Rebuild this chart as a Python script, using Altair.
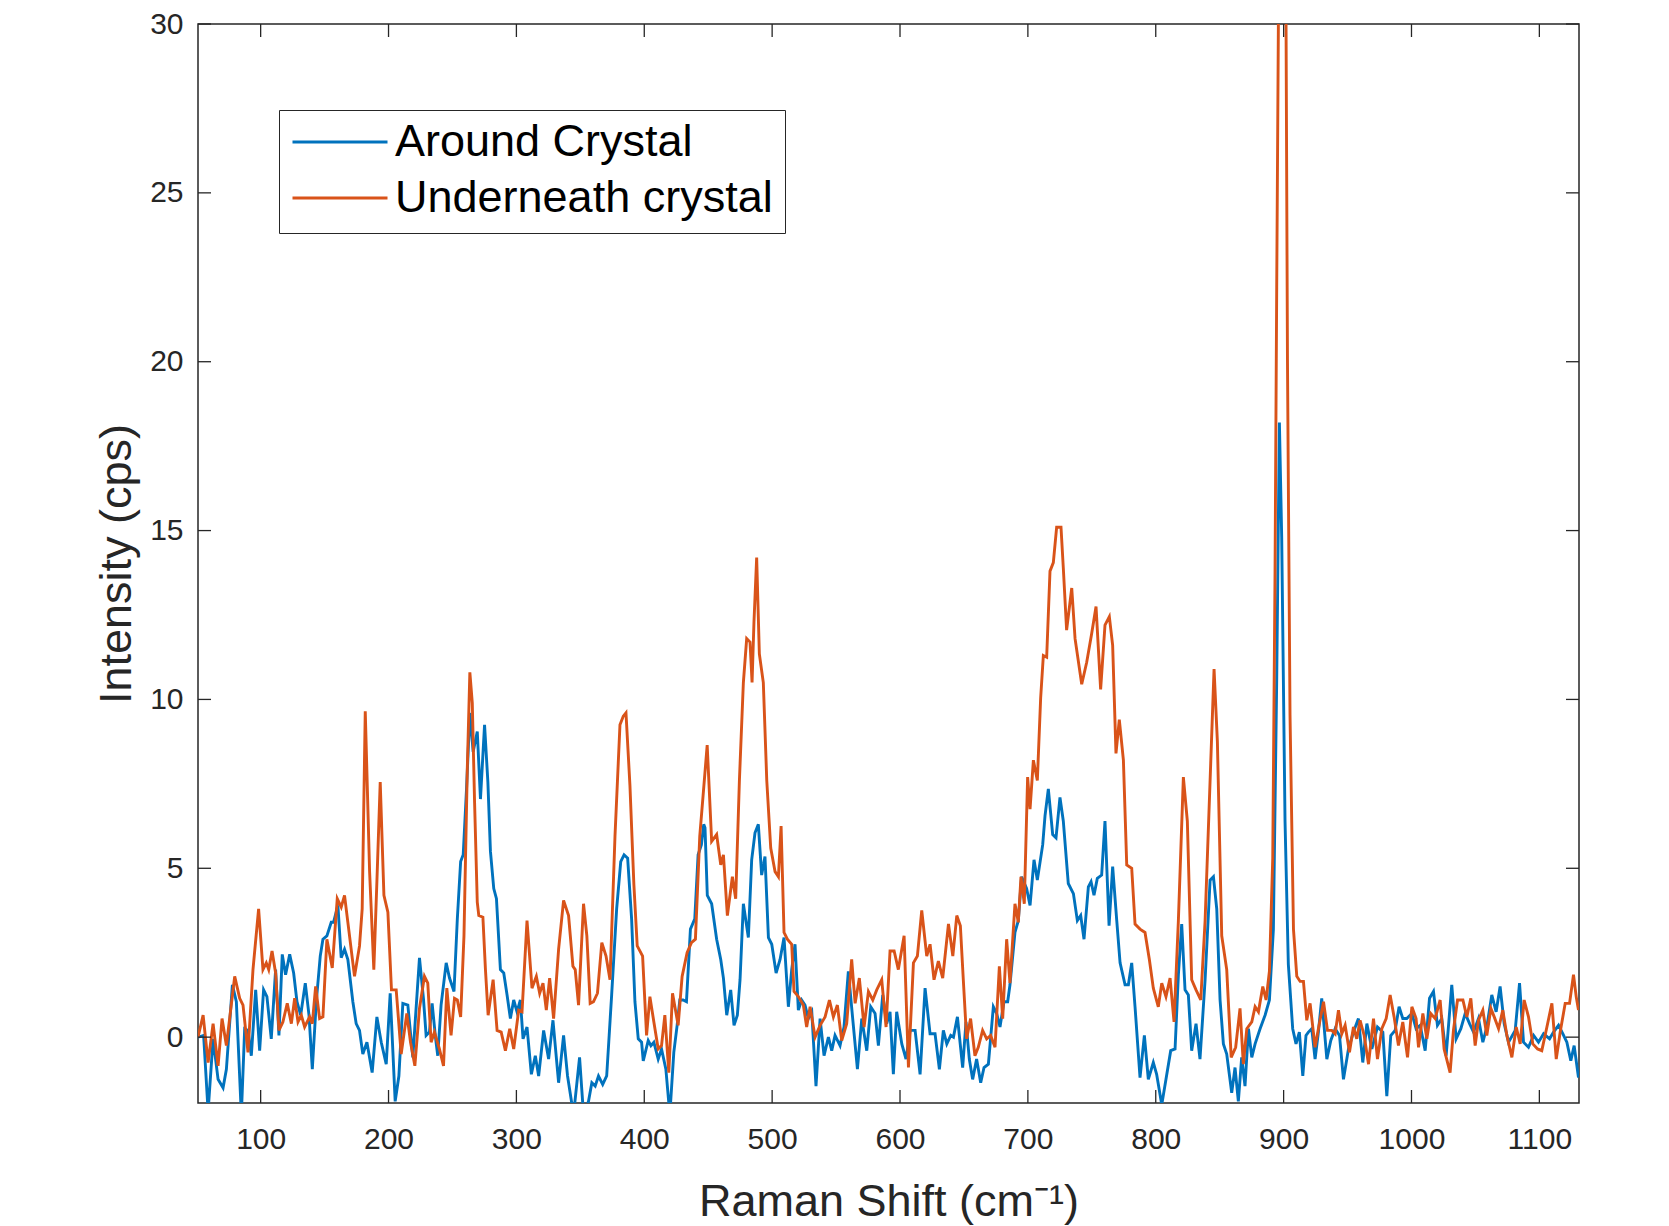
import altair as alt
import pandas as pd

series_names = ["Around Crystal", "Underneath crystal"]
series_colors = ["#0072BD", "#D95319"]

around_x = [51.0, 55.4, 58.9, 62.8, 66.7, 70.6, 73.2, 77.9, 81.0, 84.9, 87.5, 90.1, 92.7, 96.1, 99.2,
            102.3, 104.9, 108.3, 111.7, 114.3, 116.9, 119.5, 122.7, 125.8, 128.4, 131.3, 134.9, 137.8,
            140.4, 143.5, 146.6, 148.7, 151.8, 155.2, 157.0, 160.4, 163.0, 165.6, 168.2, 172.1, 174.7,
            177.3, 179.9, 183.1, 187.2, 190.9, 194.3, 198.2, 201.3, 205.2, 208.1, 211.2, 215.1, 219.0,
            224.2, 227.3, 229.4, 232.0, 234.1, 236.7, 238.5, 241.1, 245.1, 247.7, 251.2, 253.8, 256.4,
            258.4, 261.0, 263.6, 266.2, 269.4, 271.9, 275.1, 277.7, 279.7, 282.3, 284.4, 287.5, 290.1,
            292.7, 295.3, 297.9, 300.5, 303.1, 305.2, 308.3, 311.7, 314.8, 317.4, 321.3, 325.2, 328.6,
            333.0, 336.9, 340.0, 344.7, 349.4, 352.5, 356.4, 359.0, 361.6, 364.2, 367.5, 370.6, 374.5,
            378.4, 381.6, 384.2, 387.0, 390.1, 392.7, 395.3, 397.9, 399.2, 403.1, 405.2, 407.5, 410.9,
            413.5, 416.9, 420.0, 423.1, 425.7, 427.8, 430.4, 433.0, 436.1, 439.5, 442.1, 444.7, 446.5,
            447.5, 449.3, 452.7, 456.6, 459.8, 461.9, 464.5, 467.6, 470.2, 472.8, 474.9, 477.5, 481.4,
            484.0, 486.6, 489.2, 491.8, 494.4, 497.1, 499.7, 503.1, 506.2, 509.3, 512.7, 515.3, 517.9,
            520.5, 523.1, 525.7, 528.3, 531.0, 534.3, 537.5, 540.6, 544.0, 546.6, 549.2, 553.1, 556.2,
            559.6, 563.0, 566.7, 570.1, 574.0, 577.1, 580.5, 583.1, 586.5, 589.6, 592.2, 594.8, 597.4,
            601.4, 604.7, 607.9, 611.8, 615.7, 619.6, 623.5, 627.4, 630.8, 633.9, 636.6, 639.7, 641.8,
            644.9, 649.0, 651.6, 654.2, 656.8, 659.9, 663.1, 665.7, 669.1, 673.0, 675.6, 678.2, 681.3,
            684.2, 686.0, 689.9, 692.5, 695.1, 699.0, 701.7, 704.8, 707.4, 711.6, 713.4, 716.0, 719.4,
            722.0, 725.1, 727.7, 731.6, 735.6, 738.7, 741.3, 743.9, 747.3, 749.4, 751.7, 754.3, 757.7,
            760.3, 763.5, 766.3, 769.5, 772.1, 776.0, 778.6, 781.2, 783.8, 787.7, 791.1, 794.2, 798.1,
            800.7, 804.7, 808.0, 811.7, 815.1, 817.7, 820.3, 822.9, 825.5, 828.1, 831.5, 834.6, 838.6,
            842.5, 845.1, 847.7, 850.3, 852.9, 855.5, 859.4, 862.0, 864.6, 867.2, 869.8, 872.5, 875.1,
            877.7, 881.6, 885.5, 888.9, 892.0, 894.6, 896.7, 898.5, 901.1, 903.7, 907.1, 909.7, 912.3,
            915.0, 917.5, 919.4, 922.0, 924.6, 927.2, 929.8, 933.8, 936.9, 940.3, 943.7, 946.8, 950.7,
            954.6, 958.5, 961.9, 965.1, 969.0, 973.4, 977.6, 980.7, 983.8, 987.2, 990.3, 993.2, 996.3,
            1000.3, 1003.6, 1006.8, 1010.7, 1014.1, 1017.2, 1020.3, 1023.7, 1027.1, 1031.5, 1034.9,
            1038.6, 1042.0, 1045.4, 1048.5, 1052.4, 1055.8, 1058.9, 1062.8, 1066.2, 1069.3, 1072.5,
            1075.9, 1081.1, 1084.5, 1087.6, 1091.5, 1095.5, 1099.3, 1103.3, 1108.0, 1111.1, 1115.0,
            1118.4, 1121.5, 1124.6, 1127.2, 1130.6]
around_y = [0.0, 0.05, -2.2, -0.05, -1.25, -1.5, -0.95, 1.55, 1.05, -2.3, 0.25, 0.2, -0.55, 1.4, -0.4,
            1.4, 1.2, -0.05, 2.0, 0.05, 2.45, 1.85, 2.45, 1.9, 1.05, 0.65, 1.6, 0.65,
            -0.95, 1.05, 2.4, 2.9, 3.0, 3.4, 3.4, 3.9, 2.35, 2.6, 2.3, 1.05, 0.4,
            0.2, -0.5, -0.15, -1.05, 0.6, -0.15, -0.8, 1.3, -1.9, -1.15, 1.0, 0.95, -0.6,
            2.35, 1.15, 0.05, 0.15, 1.0, 0.0, -0.55, 0.95, 2.2, 1.75, 1.35, 3.5, 5.2,
            5.4, 7.35, 9.6, 8.45, 9.05, 7.05, 9.25, 7.55, 5.5, 4.4, 4.1, 2.0, 1.9,
            1.25, 0.55, 1.1, 0.75, 1.1, -0.05, 0.3, -1.1, -0.55, -1.15, 0.2, -0.65, 0.5,
            -1.35, 0.05, -1.15, -2.3, -0.6, -2.3, -1.9, -1.35, -1.45, -1.15, -1.4, -1.15, 1.25,
            3.8, 5.2, 5.4, 5.3, 3.5, 1.05, -0.05, -0.15, -0.7, -0.1, -0.25, -0.15, -0.65,
            -0.35, -0.95, -2.3, -0.45, 0.35, 1.1, 1.1, 1.05, 3.2, 3.5, 5.4, 5.7, 6.3,
            6.2, 4.2, 3.95, 2.9, 2.3, 1.75, 0.65, 1.4, 0.35, 0.65, 1.7, 3.95, 2.95,
            5.25, 6.05, 6.3, 4.8, 5.35, 2.95, 2.75, 1.9, 2.3, 2.95, 0.9, 2.0, 2.75,
            0.8, 1.1, 0.95, 0.55, 0.75, -1.45, 0.55, -0.55, 0.0, -0.4, 0.05, -0.25, 0.3,
            1.95, 0.55, -0.95, 0.55, -0.4, 0.9, 0.7, -0.25, 1.25, 0.4, 0.75, -1.1, 0.75,
            -0.2, -0.65, 0.2, 0.2, -1.1, 1.45, 0.1, 0.1, -0.95, 0.2, -0.2, 0.05, 0.0,
            0.6, -0.9, 0.45, -0.65, -1.25, -0.65, -1.35, -0.9, -0.8, 0.9, 0.7, 0.3, 1.05,
            1.05, 1.55, 3.1, 3.45, 4.75, 4.4, 3.9, 5.25, 4.65, 5.7, 6.55, 7.35, 6.0,
            5.9, 7.1, 6.4, 4.55, 4.25, 3.45, 3.6, 2.9, 4.45, 4.6, 4.2, 4.7, 4.8,
            6.4, 3.3, 5.05, 3.45, 2.2, 1.55, 1.55, 2.2, 0.9, -1.2, 0.05, -1.25, -0.75,
            -1.1, -2.0, -1.25, -0.4, -0.35, 1.85, 3.35, 1.4, 1.25, -0.4, 0.4, -0.65, 1.7,
            4.65, 4.75, 3.8, 1.1, -0.2, -0.5, -1.65, -0.9, -1.9, -0.6, -1.45, 0.25, -0.6,
            -0.2, 0.25, 0.65, 1.1, 3.2, 10.6, 18.2, 14.8, 6.4, 2.15, 0.25, -0.2, 0.15,
            -1.15, 0.05, 0.15, 0.25, -0.65, 0.15, 1.15, -0.65, -0.1, 0.25, 0.05, -1.25, -0.35,
            0.15, 0.55, -0.75, 0.4, -0.35, 0.3, 0.15, -1.75, 0.05, 0.2, 0.9, 0.55, 0.55,
            0.7, 0.25, 0.35, -0.4, 1.15, 1.35, 0.35, 0.55, -0.55, 1.55, -0.05,
            0.25, 0.7, 0.4, 0.15, 0.55, -0.15, 0.3, 1.25, 0.75, 1.5, 0.4,
            -0.15, 0.2, 1.6, -0.15, -0.3, 0.05, -0.15, 0.1, -0.05, 0.15, 0.35,
            0.1, -0.15, -0.7, -0.25, -1.2]

under_x = [51.0, 55.0, 58.9, 62.8, 66.7, 69.8, 73.2, 79.7, 83.6, 86.2, 90.1, 94.0, 98.4, 101.8, 104.4,
           106.3, 108.9, 111.7, 114.3, 117.4, 120.8, 124.0, 126.6, 129.2, 131.8, 134.4, 138.3, 140.4,
           143.0, 146.1, 148.7, 151.8, 156.0, 159.9, 163.0, 165.6, 168.2, 173.4, 177.3, 179.4, 181.8,
           185.2, 188.5, 190.9, 193.5, 196.4, 199.5, 202.3, 206.0, 209.9, 214.3, 217.2, 220.6, 224.2,
           228.1, 230.7, 233.3, 235.9, 239.8, 243.0, 245.6, 248.9, 251.6, 253.8, 256.4, 259.0, 261.6,
           263.6, 265.5, 267.3, 269.4, 270.6, 273.8, 275.8, 277.9, 281.8, 284.9, 288.1, 291.4, 294.8,
           297.9, 301.8, 304.4, 308.3, 312.2, 315.6, 318.2, 320.8, 323.4, 326.0, 329.1, 333.0, 336.9,
           340.8, 344.2, 346.0, 348.6, 352.5, 355.1, 357.7, 360.3, 363.4, 366.8, 370.1, 373.2, 377.1,
           381.0, 383.6, 385.7, 388.8, 391.9, 394.5, 398.7, 401.8, 404.4, 407.5, 410.9, 413.5, 416.1,
           419.2, 422.1, 426.5, 429.6, 433.5, 436.9, 440.0, 443.4, 446.0, 449.2, 452.7, 456.6, 459.8,
           461.9, 465.0, 468.9, 471.5, 474.4, 477.5, 480.1, 482.7, 484.3, 485.8, 487.9, 490.0, 493.1,
           495.8, 498.9, 502.3, 504.9, 507.0, 509.3, 511.9, 515.3, 517.1, 520.5, 524.4, 527.0, 529.7,
           533.6, 537.5, 541.4, 544.8, 547.9, 551.0, 554.4, 558.3, 562.2, 564.9, 568.2, 571.9, 575.3,
           578.7, 581.8, 585.7, 589.1, 592.2, 595.4, 598.7, 603.2, 606.6, 610.5, 613.6, 617.0, 620.9,
           623.5, 626.6, 630.0, 633.4, 637.9, 641.3, 644.4, 647.2, 649.5, 652.1, 655.2, 658.6, 661.2,
           664.6, 667.8, 670.9, 674.3, 677.7, 680.3, 683.4, 686.0, 689.9, 692.5, 694.6, 697.2, 699.8,
           701.7, 704.3, 707.4, 710.0, 712.1, 714.7, 717.3, 719.9, 722.5, 725.9, 727.7, 730.3, 734.3,
           736.9, 742.1, 746.0, 749.9, 753.3, 756.9, 760.3, 763.7, 766.3, 768.9, 771.5, 774.7, 777.3,
           781.2, 783.8, 787.7, 791.6, 795.0, 798.1, 802.0, 804.7, 808.0, 811.2, 814.3, 817.7, 821.6,
           824.7, 828.1, 831.5, 835.2, 838.6, 842.5, 845.6, 848.2, 851.6, 855.5, 859.0, 862.5, 865.9,
           868.5, 871.2, 875.1, 877.7, 880.3, 883.7, 886.3, 888.9, 891.5, 893.3, 894.6, 895.9, 898.9,
           901.9, 903.0, 905.0, 907.7, 910.3, 912.9, 915.5, 918.1, 920.7, 924.6, 927.2, 931.2, 934.3,
           937.7, 940.3, 942.9, 945.5, 948.1, 951.5, 954.6, 957.2, 959.8, 963.0, 966.4, 970.3, 973.4,
           976.8, 980.2, 983.3, 986.4, 989.8, 993.2, 996.9, 1000.3, 1003.6, 1005.5, 1008.9, 1012.0,
           1015.1, 1018.5, 1022.4, 1025.5, 1030.2, 1032.8, 1036.0, 1040.2, 1043.3, 1046.4, 1049.8,
           1052.4, 1055.8, 1058.9, 1062.1, 1064.7, 1068.1, 1071.4, 1074.6, 1078.5, 1081.9, 1085.0,
           1088.1, 1091.5, 1094.9, 1098.6, 1101.9, 1105.9, 1109.8, 1113.2, 1116.3, 1120.2, 1123.6,
           1126.7, 1128.8, 1130.6]
under_y = [0.0, 0.65, -0.75, 0.4, -0.85, 0.55, -0.25, 1.8, 1.15, 0.95, -0.45, 2.0, 3.8, 2.0, 2.2,
           2.0, 2.55, 1.9, 0.2, 0.45, 1.0, 0.4, 1.15, 0.45, 0.65, 0.3, 0.6, 0.4,
           1.5, 0.55, 0.6, 2.9, 2.05, 4.1, 3.85, 4.2, 3.4, 1.8, 2.7, 3.8, 9.65,
           4.9, 2.0, 4.6, 7.55, 4.2, 3.7, 1.4, 1.4, -0.5, 0.7, -0.15, -0.85, 0.85,
           1.8, 1.6, -0.15, 0.15, -0.35, -0.85, 1.45, 0.05, 1.15, 1.1, 0.6, 3.0, 7.95,
           10.8, 9.9, 6.95, 4.0, 3.6, 3.55, 2.0, 0.65, 1.7, 0.2, 0.15, -0.4, 0.25,
           -0.35, 0.8, 0.75, 3.45, 1.45, 1.8, 1.3, 1.6, 0.8, 1.75, 0.55, 2.6, 4.05,
           3.6, 2.1, 2.0, 0.95, 3.95, 3.0, 1.0, 1.05, 1.3, 2.8, 2.4, 1.7, 5.95,
           9.25, 9.5, 9.6, 7.45, 4.5, 2.7, 2.4, 0.05, 1.2, 0.45, -0.35, -0.25, 0.65,
           -1.05, 1.3, 0.35, 1.8, 2.5, 2.8, 2.9, 5.95, 7.15, 8.65, 5.8, 6.0, 5.1,
           5.4, 3.6, 4.75, 4.1, 7.6, 10.5, 11.8, 11.7, 10.5, 12.3, 14.2, 11.35, 10.5,
           7.6, 5.6, 4.9, 4.75, 6.25, 3.1, 2.9, 2.75, 1.35, 1.2, 0.95, 0.3, 0.9,
           0.0, 0.35, 0.6, 1.1, 0.6, 0.95, -0.1, 0.4, 2.3, 1.0, 1.75, 0.3, 1.35,
           1.1, 1.4, 1.7, 0.3, 2.55, 2.55, 2.0, 3.0, -0.9, 2.2, 2.4, 3.75, 2.4,
           2.75, 1.7, 2.25, 1.75, 3.35, 2.4, 3.6, 3.3, 1.7, -0.05, 0.55, -0.55, -0.3,
           0.2, -0.05, 0.05, -0.3, 2.1, 0.55, 2.9, 1.6, 3.95, 3.4, 4.75, 3.95, 7.7,
           6.75, 8.2, 7.6, 10.05, 11.3, 11.25, 13.8, 14.05, 15.1, 15.1, 13.9, 12.05, 13.3,
           11.8, 10.45, 11.1, 11.95, 12.75, 10.3, 12.2, 12.45, 11.6, 8.4, 9.4, 8.2, 5.1,
           5.0, 3.35, 3.2, 3.1, 2.3, 1.45, 0.9, 1.6, 1.2, 1.75, 0.45, 3.45, 7.7,
           6.4, 1.7, 1.4, 1.1, 3.45, 7.6, 10.9, 8.75, 3.0, 2.0, -0.6, -0.3, 0.85,
           -0.8, 0.25, 0.45, 0.9, 0.75, 1.5, 1.1, 1.95, 5.3, 13.8, 22.2, 30.0, 40.0,
           30.0, 20.1, 9.55, 3.2, 1.8, 1.65, 1.65, 0.5, 1.0, -0.3, 0.25, 1.05, 0.2,
           0.2, 0.1, 0.8, 0.1, 0.35, -0.45, 0.3, -0.05, 0.5, 0.05, -0.8, 0.55, -0.65,
           0.25, 0.55, 1.25, 0.6, -0.25, 0.45, -0.6, 0.9, 0.55, -0.3, 0.7, -0.05,
           0.7, 0.55, 1.1, -0.35, -1.05, 0.2, 1.1, 1.1, 0.6, 1.15, -0.25,
           0.5, 0.8, 0.05, 0.85, 0.6, 0.25, 0.8, 0.05, -0.6, 0.3, -0.2,
           1.1, 0.6, -0.2, -0.35, -0.4, 0.3, 1.0, -0.65, 0.15, 1.0, 1.0,
           1.85, 1.2, 0.8]

x_ticks = [100, 200, 300, 400, 500, 600, 700, 800, 900, 1000, 1100]
y_ticks = [0, 5, 10, 15, 20, 25, 30]
x_domain = [51, 1131]
y_domain = [-1.95, 30]

W, H = 1381, 1079
TICK = 13
INK = "#262626"
FONT = "Liberation Sans"

df = pd.concat([
    pd.DataFrame({"x": around_x, "y": around_y, "series": series_names[0]}),
    pd.DataFrame({"x": under_x, "y": under_y, "series": series_names[1]}),
], ignore_index=True)

xscale = alt.Scale(domain=x_domain, nice=False, zero=False)
yscale = alt.Scale(domain=y_domain, nice=False, zero=False)

x_axis = alt.Axis(values=x_ticks, format="d", title="Raman Shift (cm⁻¹)", labelPadding=21,
                  titleY=112, titleBaseline="alphabetic")
y_axis = alt.Axis(values=y_ticks, format="d", title="Intensity (cps)", labelPadding=15,
                  titleX=-68, titleY=H / 2, titleAngle=270,
                  titleBaseline="alphabetic", titleAlign="center")

lines = alt.Chart(df).mark_line(strokeWidth=2.9, clip=True).encode(
    x=alt.X("x:Q", scale=xscale, axis=x_axis),
    y=alt.Y("y:Q", scale=yscale, axis=y_axis),
    color=alt.Color("series:N",
                    scale=alt.Scale(domain=series_names, range=series_colors),
                    legend=alt.Legend(title=None, orient="none", legendX=81, legendY=86,
                                      symbolType="stroke", symbolSize=9025,
                                      symbolStrokeWidth=3, labelFontSize=45,
                                      labelFont=FONT, labelColor="black", labelLimit=1000,
                                      padding=12, strokeColor=INK, fillColor="white",
                                      rowPadding=11, clipHeight=40, labelOffset=6)),
    detail="series:N",
)

xt = pd.DataFrame({"t": x_ticks})
yt = pd.DataFrame({"t": y_ticks})

def xtick(y0, y1):
    return alt.Chart(xt).mark_rule(color=INK, strokeWidth=1.3).encode(
        x=alt.X("t:Q", scale=xscale, axis=x_axis), y=alt.value(y0), y2=alt.value(y1))

def ytick(x0, x1):
    return alt.Chart(yt).mark_rule(color=INK, strokeWidth=1.3).encode(
        y=alt.Y("t:Q", scale=yscale, axis=y_axis), x=alt.value(x0), x2=alt.value(x1))

chart = alt.layer(
    lines,
    xtick(H, H - TICK), xtick(0, TICK),
    ytick(0, TICK), ytick(W - TICK, W),
).properties(
    width=W, height=H,
    autosize=alt.AutoSizeParams(type="none"),
    padding={"left": 190, "top": 16, "right": 80, "bottom": 123},
    background="white",
).configure_axis(
    labelFont=FONT, labelFontSize=30, labelColor=INK,
    titleFont=FONT, titleFontSize=45, titleColor=INK, titleFontWeight="normal",
    ticks=False, domain=False, grid=False,
).configure_view(
    stroke=INK, strokeWidth=1.5,
)

chart.save("out.html", embed_options={"renderer": "svg", "actions": False})
